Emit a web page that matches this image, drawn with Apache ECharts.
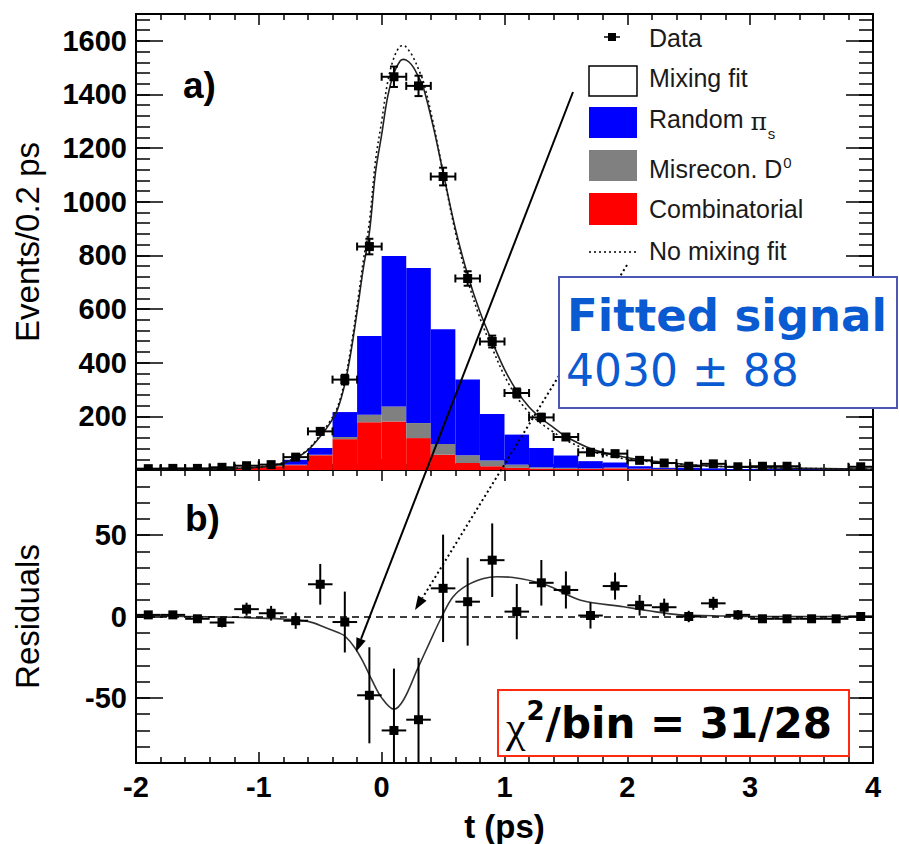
<!DOCTYPE html>
<html><head><meta charset="utf-8">
<script src="https://cdn.jsdelivr.net/npm/echarts@6/dist/echarts.min.js"></script>
<style>html,body{margin:0;padding:0;background:#fff}#c{width:899px;height:844px}</style>
</head><body><div id="c"></div>
<script>
// ---- data ----
const binCenters = [-1.9,-1.7,-1.5,-1.3,-1.1,-0.9,-0.7,-0.5,-0.3,-0.1,0.1,0.3,0.5,0.7,0.9,1.1,1.3,1.5,1.7,1.9,2.1,2.3,2.5,2.7,2.9,3.1,3.3,3.5,3.7,3.9];
const dataEvents = [5,6,6,10,16,20,48,144,337,833,1466,1432,1094,714,479,287,196,123,66,61,36,26,14,23,12,14,14,0,0,12];
const dataErrors = [2,2.5,2.5,3,4,4.5,7,12,18,29,38,38,33,27,22,17,14,11,8,8,6,5,4,5,3.5,4,4,0,0,3.5];
const combinatorial = [0,0,0,0,8,14,18,55,115,178,181,119,57,26,14,8,5,4,4,6,3,2,1,0,0,0,0,0,0,0];
const misreconD0 = [0,0,0,0,0,0,2,2,8,28,56,56,40,29,21,12,5,4,2,3,2,2,0,0,0,0,0,0,0,0];
const randomPis = [0,0,0,0,0,0,18,25,93,294,561,578,428,282,174,112,72,46,27,19,9,4,7,6,3,3,2,2,1,1];
const residuals = [1,1,-1.4,-3.7,4.5,2,-2.6,19.8,-3.4,-48.4,-70,-63.4,17.3,9.1,34.6,3,20.7,16.3,0.6,18.7,6.9,5.7,0,8.1,1,-1.4,-1.4,-1.4,-1.4,0];
const residualErrors = [2,2,2,3,4,4.5,5,12.5,18.7,29.5,38,38,33,27,22.6,17,14,11.4,8,8.3,6.3,5.3,3.5,4,3,2,2,1,1,2];

const fitT = [-2.0,-1.6,-1.2,-1.0,-0.9,-0.8,-0.7,-0.6,-0.5,-0.42,-0.36,-0.3,-0.25,-0.2,-0.15,-0.1,-0.05,0.0,0.05,0.1,0.15,0.18,0.22,0.26,0.3,0.34,0.42,0.5,0.6,0.7,0.8,0.9,1.0,1.1,1.2,1.3,1.4,1.5,1.7,1.9,2.1,2.3,2.6,2.9,3.3,3.6,4.0];
const mixingFit = [2,3,6,10,16,26,44,74,125,175,225,320,440,590,750,885,1110,1250,1395,1480,1525,1531,1522,1500,1465,1425,1280,1110,900,728,590,478,375,295,235,192,158,125,80,55,39,29,17,11,7,5,3];
const noMixingFit = [2,3,6.5,11,17,27.5,46,77,131,182,234,332,458,612,778,924,1154,1300,1449,1537,1579,1582,1565,1536,1494,1447,1293,1109,887,708,567,454,351,272,214,173,141,111,71,48,35,27,16.5,11,7,5,3];

const residT = [-2.0,-1.6,-1.2,-1.0,-0.8,-0.6,-0.45,-0.35,-0.3,-0.22,-0.15,-0.08,0.0,0.1,0.18,0.29,0.39,0.49,0.58,0.69,0.83,0.94,1.07,1.34,1.62,1.97,2.16,2.43,2.7,3.0,3.5,4.0];
const residFit = [0.5,0,-0.5,-1,-1.5,-3,-7,-10,-12,-19,-28,-39,-50,-57,-51,-32.5,-16,0,12,19,23.4,24.4,24,19.3,10,6,3.7,1,0.5,0,0,0];

const topYLabels = [200,400,600,800,1000,1200,1400,1600];
const residYLabels = [-50,0,50];

// ---- helpers ----
const SANS = '"Liberation Sans", Arial, Helvetica, sans-serif';
const binHalf = (binCenters[1] - binCenters[0]) / 2;
const mctx = document.createElement('canvas').getContext('2d');
function tw(text, font){ mctx.font = font; return mctx.measureText(text).width; }

const histData = binCenters.map((t,i)=>[t, combinatorial[i], misreconD0[i], randomPis[i]]);
const pointData = binCenters.map((t,i)=>[t, dataEvents[i], dataErrors[i]]);
const residData = binCenters.map((t,i)=>[t, residuals[i], residualErrors[i]]);

function renderHist(params, api){
  const t = api.value(0), r = api.value(1), g = api.value(2), b = api.value(3);
  const kids = [];
  const add = (y0, y1, color) => {
    if (y1 <= y0) return;
    const p0 = api.coord([t - binHalf, y1]);
    const p1 = api.coord([t + binHalf, y0]);
    kids.push({type:'rect', shape:{x:p0[0], y:p0[1], width:p1[0]-p0[0], height:p1[1]-p0[1]}, style:{fill:color}});
  };
  add(0, r, '#ff0000');
  add(r, r+g, '#808080');
  add(r+g, r+g+b, '#0000ff');
  return {type:'group', children:kids};
}
function makePointRenderer(caps){
  return function(params, api){
    const t = api.value(0), v = api.value(1), e = api.value(2);
    if (caps && !v) return {type:'group', children:[]};
    const c = api.coord([t, v]);
    const xl = api.coord([t - binHalf, v])[0], xr = api.coord([t + binHalf, v])[0];
    const yt = api.coord([t, v + e])[1], yb = api.coord([t, v - e])[1];
    const st = {stroke:'#000', lineWidth:2};
    const kids = [
      {type:'line', shape:{x1:xl, y1:c[1], x2:xr, y2:c[1]}, style:st},
      {type:'line', shape:{x1:c[0], y1:yt, x2:c[0], y2:yb}, style:st}
    ];
    if (caps){
      kids.push({type:'line', shape:{x1:xl, y1:c[1]-4, x2:xl, y2:c[1]+4}, style:st});
      kids.push({type:'line', shape:{x1:xr, y1:c[1]-4, x2:xr, y2:c[1]+4}, style:st});
      kids.push({type:'line', shape:{x1:c[0]-4, y1:yt, x2:c[0]+4, y2:yt}, style:st});
      kids.push({type:'line', shape:{x1:c[0]-4, y1:yb, x2:c[0]+4, y2:yb}, style:st});
    }
    kids.push({type:'rect', shape:{x:c[0]-4.5, y:c[1]-4.5, width:9, height:9}, style:{fill:'#000'}});
    return {type:'group', children:kids};
  };
}

// ---- axes ----
const frameLine = {show:true, onZero:false, lineStyle:{color:'#000', width:2}};
const noLine = {show:false, onZero:false};
const tickStyle = {color:'#000', width:1.5};
const labelStyle = {fontFamily:SANS, fontWeight:'bold', fontSize:29, color:'#000', formatter:(v)=>String(v)};
const nameStyle = {fontFamily:SANS, fontSize:33, color:'#000'};
function mkX(gridIndex, position, labels){
  const ax = {type:'value', gridIndex, position, min:-2, max:4, interval:1,
    axisLine:frameLine,
    axisTick:{show:true, inside:true, length:11, lineStyle:tickStyle},
    minorTick:{show:true, splitNumber:5, length:6, lineStyle:tickStyle},
    splitLine:{show:false}, minorSplitLine:{show:false},
    axisLabel:{show:false}};
  if (labels){
    ax.axisLabel = Object.assign({show:true, margin:9}, labelStyle);
    ax.name = 't (ps)'; ax.nameLocation = 'middle'; ax.nameGap = 47;
    ax.nameTextStyle = {fontFamily:SANS, fontSize:33, fontWeight:'bold', color:'#000'};
  }
  return ax;
}
function mkMinorY(gridIndex, position, min, max, step){
  return {type:'value', gridIndex, position, min, max, interval:step,
   axisLine:noLine, splitLine:{show:false}, axisLabel:{show:false},
   axisTick:{show:true, inside:true, length:14, lineStyle:tickStyle}};
}
const yAxes = [
  // top panel
  {type:'value', gridIndex:0, position:'left', min:0, max:1700,
   axisLine:frameLine, splitLine:{show:false},
   axisTick:{show:true, inside:true, length:27, lineStyle:tickStyle, customValues:[0].concat(topYLabels)},
   axisLabel:Object.assign({show:true, margin:9, customValues:topYLabels}, labelStyle),
   name:'Events/0.2 ps', nameLocation:'middle', nameGap:92, nameTextStyle:nameStyle},
  mkMinorY(0, 'left', 0, 1700, 40),
  {type:'value', gridIndex:0, position:'right', min:0, max:1700,
   axisLine:frameLine, splitLine:{show:false}, axisLabel:{show:false},
   axisTick:{show:true, inside:true, length:27, lineStyle:tickStyle, customValues:[0].concat(topYLabels)}},
  mkMinorY(0, 'right', 0, 1700, 40),
  // residual panel
  {type:'value', gridIndex:1, position:'left', min:-90, max:90,
   axisLine:frameLine, splitLine:{show:false},
   axisTick:{show:true, inside:true, length:27, lineStyle:tickStyle, customValues:residYLabels},
   axisLabel:Object.assign({show:true, margin:9, customValues:residYLabels}, labelStyle),
   name:'Residuals', nameLocation:'middle', nameGap:92, nameTextStyle:nameStyle},
  mkMinorY(1, 'left', -90, 90, 10),
  {type:'value', gridIndex:1, position:'right', min:-90, max:90,
   axisLine:frameLine, splitLine:{show:false}, axisLabel:{show:false},
   axisTick:{show:true, inside:true, length:27, lineStyle:tickStyle, customValues:residYLabels}},
  mkMinorY(1, 'right', -90, 90, 10)
];

// ---- annotations (legend, boxes, arrows) ----
function arrow(x1,y1,x2,y2,dash){
  const a = Math.atan2(y2-y1, x2-x1), L = 14, W = 5;
  const bx = x2 - L*Math.cos(a), by = y2 - L*Math.sin(a);
  const px = -Math.sin(a)*W, py = Math.cos(a)*W;
  return [
    {type:'line', z:50, shape:{x1,y1,x2:bx,y2:by}, style:{stroke:'#000', lineWidth:2, lineDash:dash||null}},
    {type:'polygon', z:50, shape:{points:[[x2,y2],[bx+px,by+py],[bx-px,by-py]]}, style:{fill:'#000'}}
  ];
}
function txt(x, y, text, font, fill, extra){
  return Object.assign({type:'text', z:60, x, y, style:{text, font, fill:fill||'#000', align:'left', verticalAlign:'middle'}}, extra||{});
}
const LF = '25px ' + SANS;
const LC = '#1a1a1a';
const lx = 649;
const graphics = [];
// legend
graphics.push({type:'rect', z:60, shape:{x:608, y:33, width:8, height:8}, style:{fill:'#000'}});
graphics.push({type:'line', z:60, shape:{x1:604, y1:37, x2:620, y2:37}, style:{stroke:'#000', lineWidth:1.5}});
graphics.push(txt(lx, 38, 'Data', LF, LC));
graphics.push({type:'rect', z:60, shape:{x:589, y:66, width:48, height:30}, style:{fill:'#fff', stroke:'#000', lineWidth:1.5}});
graphics.push(txt(lx, 78, 'Mixing fit', LF, LC));
graphics.push({type:'rect', z:60, shape:{x:589, y:107, width:48, height:31}, style:{fill:'#0000ff'}});
{
  const w1 = tw('Random ', LF);
  graphics.push(txt(lx, 119, 'Random ', LF, LC));
  const pf = '25px "DejaVu Serif", serif';
  graphics.push(txt(lx + w1, 121, 'π', pf, LC));
  const w2 = tw('π', pf);
  graphics.push(txt(lx + w1 + w2 + 1, 133, 's', '15px ' + SANS, LC));
}
graphics.push({type:'rect', z:60, shape:{x:589, y:150, width:48, height:31}, style:{fill:'#808080'}});
{
  const w1 = tw('Misrecon. D', LF);
  graphics.push(txt(lx, 169, 'Misrecon. D', LF, LC));
  graphics.push(txt(lx + w1 + 1, 162, '0', '15px ' + SANS, LC));
}
graphics.push({type:'rect', z:60, shape:{x:589, y:193, width:48, height:32}, style:{fill:'#ff0000'}});
graphics.push(txt(lx, 209, 'Combinatorial', LF, LC));
graphics.push({type:'line', z:60, shape:{x1:589, y1:252, x2:637, y2:252}, style:{stroke:'#000', lineWidth:1.5, lineDash:[2,3]}});
graphics.push(txt(lx, 251, 'No mixing fit', LF, LC));
// panel tags
graphics.push(txt(183, 85, 'a)', 'bold 37px ' + SANS, '#000'));
graphics.push(txt(185, 518, 'b)', 'bold 37px ' + SANS, '#000'));
// arrows
arrow(573, 92, 356, 652).forEach(g=>graphics.push(g));
arrow(627, 265, 415, 610, [2,3]).forEach(g=>graphics.push(g));
// fitted-signal box
graphics.push({type:'rect', z:70, shape:{x:559, y:277, width:338, height:131}, style:{fill:'#fff', stroke:'#4a58b4', lineWidth:2}});
graphics.push(txt(567, 315, 'Fitted signal', 'bold 45px "DejaVu Sans", Verdana, sans-serif', '#0a5ad2', {z:71}));
graphics.push(txt(566, 370, '4030 ± 88', '44px "DejaVu Sans", Verdana, sans-serif', '#0a5ad2', {z:71}));
// chi2 box
graphics.push({type:'rect', z:70, shape:{x:498, y:690, width:351, height:66}, style:{fill:'#fff', stroke:'#ff2a10', lineWidth:2}});
{
  const cf = '44px "Liberation Serif", "DejaVu Serif", serif';
  const sf = 'bold 26px "DejaVu Sans", sans-serif';
  const bf = 'bold 42px "DejaVu Sans", sans-serif';
  const w1 = tw('χ', cf), w2 = tw('2', sf);
  graphics.push(txt(506, 727, 'χ', cf, '#000', {z:71}));
  graphics.push(txt(506 + w1 + 1, 711, '2', sf, '#000', {z:71}));
  graphics.push(txt(506 + w1 + w2 + 2, 723, '/bin = 31/28', bf, '#000', {z:71}));
}

const option = {
  animation:false,
  backgroundColor:'#fff',
  grid:[{left:136, top:14, width:737, height:456}, {left:136, top:470, width:737, height:294}],
  xAxis:[mkX(0,'bottom',false), mkX(0,'top',false), mkX(1,'bottom',true), mkX(1,'top',false)],
  yAxis:yAxes,
  series:[
    {type:'custom', name:'Background components', xAxisIndex:0, yAxisIndex:0, clip:true, z:1,
     data:histData, encode:{x:0, y:[1,2,3]}, renderItem:renderHist},
    {type:'line', name:'Mixing fit', xAxisIndex:0, yAxisIndex:0, z:3, smooth:0.35, symbol:'none', clip:true,
     data:fitT.map((t,i)=>[t, mixingFit[i]]), lineStyle:{color:'#222', width:1.6}},
    {type:'line', name:'No mixing fit', xAxisIndex:0, yAxisIndex:0, z:3, smooth:0.35, symbol:'none', clip:true,
     data:fitT.map((t,i)=>[t, noMixingFit[i]]), lineStyle:{color:'#111', width:1.6, type:[2,3]}},
    {type:'custom', name:'Data', xAxisIndex:0, yAxisIndex:0, clip:true, z:4,
     data:pointData, encode:{x:0, y:1}, renderItem:makePointRenderer(true)},
    {type:'line', name:'Residual fit', xAxisIndex:2, yAxisIndex:4, z:3, smooth:0.35, symbol:'none', clip:true,
     data:residT.map((t,i)=>[t, residFit[i]]), lineStyle:{color:'#333', width:1.6},
     markLine:{silent:true, symbol:'none', label:{show:false}, data:[{yAxis:0}], lineStyle:{color:'#000', width:1.5, type:[7,5]}}},
    {type:'custom', name:'Residuals', xAxisIndex:2, yAxisIndex:4, clip:true, z:4,
     data:residData, encode:{x:0, y:1}, renderItem:makePointRenderer(false)}
  ],
  graphic:graphics
};
const chart = echarts.init(document.getElementById('c'), null, {renderer:'svg'});
chart.setOption(option);
</script>
</body></html>
